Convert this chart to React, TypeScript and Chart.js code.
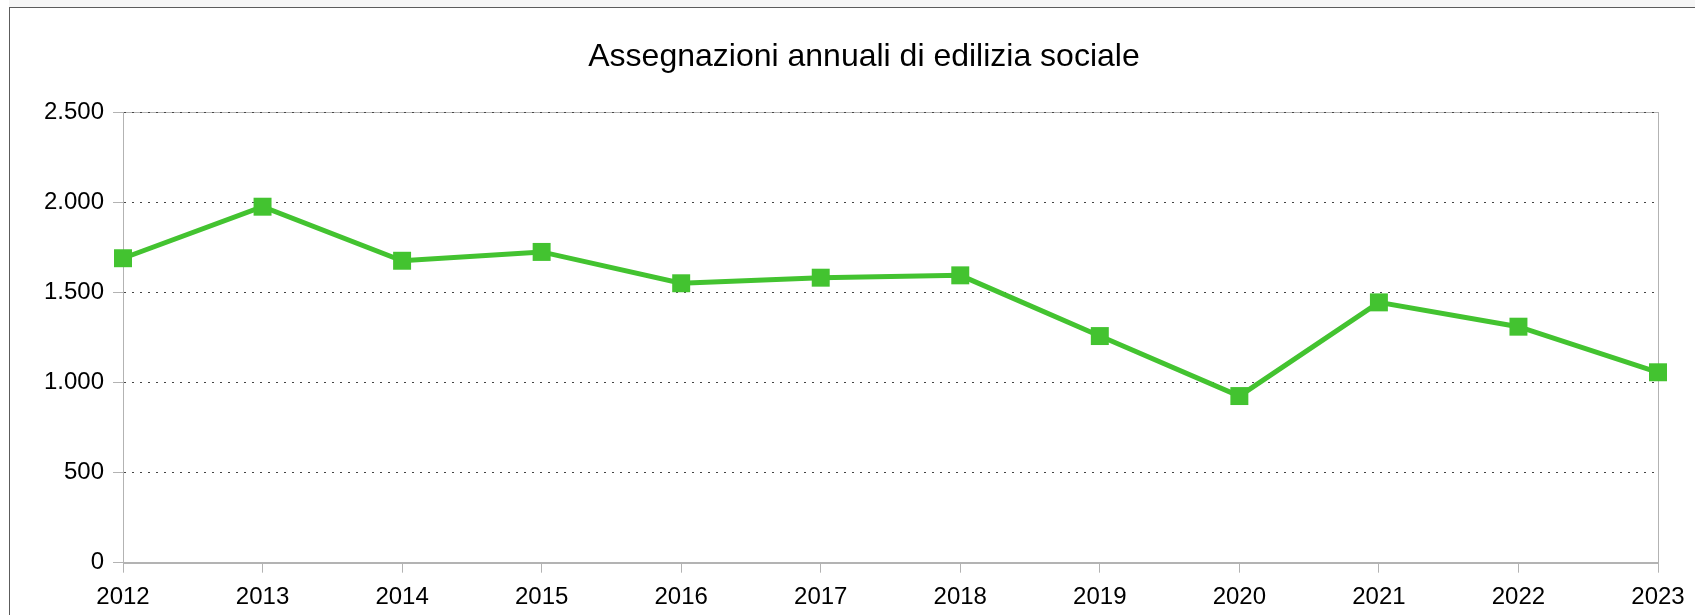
import React, { useEffect, useRef } from 'react';
import { Chart, registerables } from 'chart.js';

Chart.register(...registerables);

const years = ['2012', '2013', '2014', '2015', '2016', '2017', '2018', '2019', '2020', '2021', '2022', '2023'];
const assegnazioni = [1690, 1976, 1676, 1725, 1551, 1582, 1595, 1258, 925, 1445, 1310, 1057];
const yMin = 0;
const yMax = 2500;
const yStep = 500;
const chartTitle = 'Assegnazioni annuali di edilizia sociale';

const FONT = '"Liberation Sans", Arial, sans-serif';
const CANVAS_W = 1708;
const CANVAS_H = 640;

const formatIt = (v: number) => String(v).replace(/\B(?=(\d{3})+(?!\d))/g, '.');

const plotFrame = {
  id: 'plotFrame',
  beforeDraw(chart: any) {
    const { ctx, chartArea } = chart;
    if (!chartArea) return;
    ctx.save();
    ctx.strokeStyle = '#b3b3b3';
    ctx.lineWidth = 1;
    const l = Math.round(chartArea.left) + 0.5;
    const t = Math.round(chartArea.top) + 0.5;
    const r = Math.round(chartArea.right) + 0.5;
    const b = Math.round(chartArea.bottom) + 0.5;
    ctx.strokeRect(l, t, r - l, b - t);
    ctx.restore();
  },
};

export default function App() {
  const ref = useRef<HTMLCanvasElement>(null);

  useEffect(() => {
    const chart = new Chart(ref.current as HTMLCanvasElement, {
      type: 'line',
      data: {
        labels: years,
        datasets: [
          {
            label: 'Assegnazioni',
            data: assegnazioni,
            borderColor: '#43c330',
            backgroundColor: '#43c330',
            borderWidth: 5,
            pointStyle: 'rect',
            pointRadius: 12.7,
            pointHoverRadius: 12.7,
            pointBackgroundColor: '#43c330',
            pointBorderWidth: 0,
            tension: 0,
            clip: false as any,
            yAxisID: 'y',
          },
        ],
      },
      options: {
        responsive: false,
        animation: false,
        devicePixelRatio: 1,
        layout: { padding: { top: 0, left: 0, right: 0, bottom: 0 } },
        plugins: {
          legend: { display: false },
          tooltip: { enabled: false },
          title: {
            display: true,
            text: chartTitle,
            color: '#000',
            font: { family: FONT, size: 32, weight: 'normal' as any },
            padding: { top: 30.4, bottom: 35.5 },
          },
        },
        scales: {
          x: {
            type: 'category',
            offset: false,
            grid: {
              drawOnChartArea: false,
              drawTicks: true,
              tickLength: 10,
              tickColor: '#b3b3b3',
              color: '#b3b3b3',
            },
            border: { display: true, color: '#b3b3b3' },
            ticks: {
              padding: 10.5,
              color: '#000',
              font: { family: FONT, size: 24 },
              maxRotation: 0,
              autoSkip: false,
            },
            afterFit: (s: any) => {
              s.height = 85.3;
            },
          },
          y: {
            position: 'left',
            min: yMin,
            max: yMax,
            grid: {
              color: '#444',
              lineWidth: 1,
              drawTicks: true,
              tickLength: 10,
              tickColor: '#b3b3b3',
              tickBorderDash: [],
            } as any,
            border: { display: true, color: '#b3b3b3', dash: [2, 6] },
            ticks: {
              stepSize: yStep,
              padding: 9,
              color: '#000',
              font: { family: FONT, size: 24 },
              callback: (v: any) => formatIt(Number(v)),
            },
            afterFit: (s: any) => {
              s.width = 113;
            },
          },
          yRightSpace: {
            position: 'right',
            min: yMin,
            max: yMax,
            grid: { display: false, drawOnChartArea: false, drawTicks: false },
            border: { display: false },
            ticks: { display: false },
            afterFit: (s: any) => {
              s.width = 60;
            },
          },
        },
      },
      plugins: [plotFrame],
    });
    return () => chart.destroy();
  }, []);

  return (
    <div
      style={{
        position: 'fixed',
        left: 0,
        top: 0,
        width: 1695,
        height: 615,
        overflow: 'hidden',
        background: '#fff',
      }}
    >
      <div style={{ position: 'absolute', left: 9, top: 0, right: 0, height: 7, background: '#f6f6f6' }} />
      <div
        style={{
          position: 'absolute',
          left: 9,
          top: 7,
          borderLeft: '1px solid #5c5c5c',
          borderTop: '1px solid #5c5c5c',
          background: '#fff',
        }}
      >
        <canvas
          ref={ref}
          width={CANVAS_W}
          height={CANVAS_H}
          style={{ display: 'block', width: CANVAS_W, height: CANVAS_H }}
        />
      </div>
    </div>
  );
}
